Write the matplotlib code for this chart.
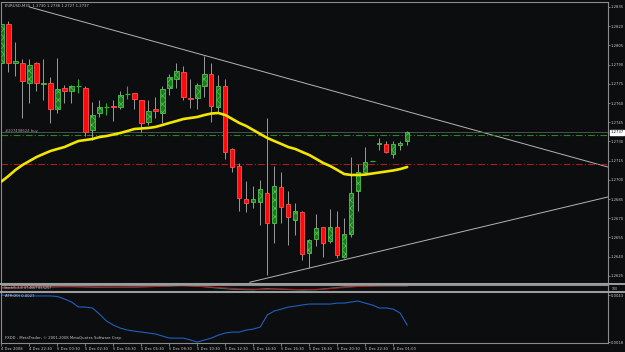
import matplotlib
matplotlib.use("Agg")
import matplotlib.pyplot as plt
import matplotlib.transforms as mtrans
from matplotlib import font_manager
from matplotlib.patches import Rectangle

BG = "#0c0d0f"
EDGE = "#8c8c8c"
TXT = "#c8c8c8"

# EURUSD M30 candles, one per 30 minutes starting 4 Dec 2008 20:30
opens = [1.2791, 1.2822, 1.2791, 1.2791, 1.2776, 1.2791, 1.2775, 1.2776, 1.2755, 1.2772,
         1.2769, 1.2773, 1.2772, 1.2739, 1.2752, 1.2757, 1.2758, 1.2757, 1.2767, 1.2768,
         1.2762, 1.2745, 1.2755, 1.2752, 1.2772, 1.2779, 1.2784, 1.2764, 1.2764, 1.2773,
         1.2783, 1.2757, 1.2773, 1.2724, 1.2711, 1.2685, 1.2683, 1.2683, 1.2690, 1.2666,
         1.2694, 1.2681, 1.2669, 1.2675, 1.2643, 1.2654, 1.2663, 1.2652, 1.2663, 1.2640,
         1.2658, 1.2691, 1.2706, 1.2715, 1.2728, 1.2728, 1.2720, 1.2727, 1.2730]
highs = [1.2825, 1.2824, 1.2808, 1.2794, 1.2794, 1.2792, 1.2794, 1.2780, 1.2795, 1.2774,
         1.2774, 1.2779, 1.2773, 1.2761, 1.2762, 1.2760, 1.2762, 1.2769, 1.2773, 1.2768,
         1.2762, 1.2762, 1.2765, 1.2773, 1.2783, 1.2791, 1.2789, 1.2779, 1.2776, 1.2797,
         1.2791, 1.2782, 1.2779, 1.2725, 1.2713, 1.2699, 1.2695, 1.2700, 1.2748, 1.2711,
         1.2706, 1.2691, 1.2682, 1.2676, 1.2654, 1.2673, 1.2663, 1.2677, 1.2676, 1.2670,
         1.2718, 1.2712, 1.2726, 1.2715, 1.2733, 1.2730, 1.2730, 1.2730, 1.2738]
lows = [1.2789, 1.2784, 1.2781, 1.2748, 1.2760, 1.2769, 1.2762, 1.2744, 1.2752, 1.2760,
        1.2760, 1.2768, 1.2734, 1.2731, 1.2749, 1.2751, 1.2746, 1.2755, 1.2763, 1.2755,
        1.2737, 1.2743, 1.2748, 1.2744, 1.2766, 1.2772, 1.2762, 1.2756, 1.2755, 1.2765,
        1.2745, 1.2753, 1.2716, 1.2706, 1.2676, 1.2675, 1.2678, 1.2665, 1.2626, 1.2651,
        1.2666, 1.2649, 1.2657, 1.2637, 1.2631, 1.2648, 1.2640, 1.2651, 1.2639, 1.2639,
        1.2655, 1.2676, 1.2704, 1.2715, 1.2723, 1.2721, 1.2717, 1.2723, 1.2727]
closes = [1.2822, 1.2791, 1.2793, 1.2777, 1.2790, 1.2776, 1.2776, 1.2755, 1.2771, 1.2769,
          1.2773, 1.2773, 1.2737, 1.2751, 1.2757, 1.2757, 1.2757, 1.2766, 1.2767, 1.2763,
          1.2744, 1.2754, 1.2754, 1.2771, 1.2780, 1.2785, 1.2765, 1.2763, 1.2774, 1.2783,
          1.2758, 1.2773, 1.2722, 1.2710, 1.2686, 1.2682, 1.2685, 1.2693, 1.2666, 1.2695,
          1.2679, 1.2671, 1.2676, 1.2642, 1.2653, 1.2662, 1.2651, 1.2663, 1.2641, 1.2658,
          1.2690, 1.2706, 1.2714, 1.2715, 1.2729, 1.2722, 1.2728, 1.2729, 1.2737]

# yellow moving average
ma = [1.26987, 1.27030, 1.27077, 1.27116, 1.27147, 1.27178, 1.27202, 1.27225, 1.27241, 1.27256,
      1.27280, 1.27303, 1.27311, 1.27319, 1.27334, 1.27342, 1.27354, 1.27366, 1.27381, 1.27397,
      1.27401, 1.27405, 1.27413, 1.27428, 1.27444, 1.27459, 1.27475, 1.27483, 1.27491, 1.27506,
      1.27518, 1.27522, 1.27506, 1.27475, 1.27444, 1.27420, 1.27389, 1.27358, 1.27327, 1.27303,
      1.27280, 1.27256, 1.27241, 1.27217, 1.27194, 1.27163, 1.27131, 1.27108, 1.27077, 1.27045,
      1.27038, 1.27038, 1.27041, 1.27049, 1.27057, 1.27065, 1.27073, 1.27084, 1.27100]

atr = [0.00430, 0.00427, 0.00427, 0.00425, 0.00425, 0.00425, 0.00425, 0.00425, 0.00422, 0.00409,
       0.00393, 0.00366, 0.00366, 0.00361, 0.00329, 0.00292, 0.00270, 0.00254, 0.00244, 0.00238,
       0.00233, 0.00228, 0.00223, 0.00212, 0.00201, 0.00201, 0.00201, 0.00191, 0.00180, 0.00191,
       0.00201, 0.00217, 0.00228, 0.00233, 0.00233, 0.00244, 0.00249, 0.00260, 0.00324, 0.00345,
       0.00355, 0.00366, 0.00371, 0.00377, 0.00382, 0.00382, 0.00382, 0.00382, 0.00387, 0.00387,
       0.00393, 0.00398, 0.00387, 0.00377, 0.00361, 0.00361, 0.00355, 0.00334, 0.00270]

# stochastic (squeezed panel)
sto_idx = [0, 3, 5, 10, 14, 19, 24, 26, 29, 31, 33, 36, 38, 40, 43, 45, 47, 49, 52, 55, 58]
sto_main = [55, 60, 65, 75, 62, 66, 82, 95, 72, 48, 30, 20, 40, 28, 18, 22, 45, 68, 85, 88, 87]
sig_idx = [0, 4, 8, 12, 17, 21, 25, 28, 31, 34, 37, 40, 43, 46, 48, 51, 54, 58]
sto_sig = [50, 58, 72, 68, 60, 72, 88, 80, 58, 35, 28, 33, 22, 30, 50, 75, 86, 88]

price_ticks = [1.2625 + 0.0015 * k for k in range(15)]
time_idx = [0, 4, 8, 12, 16, 20, 24, 28, 32, 36, 40, 44, 48, 52, 56]
time_labels = ["4 Dec 2008", "4 Dec 22:30", "5 Dec 00:30", "5 Dec 02:30", "5 Dec 04:30",
               "5 Dec 06:30", "5 Dec 08:30", "5 Dec 10:30", "5 Dec 12:30", "5 Dec 14:30",
               "5 Dec 16:30", "5 Dec 18:30", "5 Dec 20:30", "5 Dec 22:30", "8 Dec 01:00"]

# trend lines (two anchor points each, extended to the right edge)
upper_line = [(4, 1.2835), (86.7, 1.2710)]
lower_line = [(35.5, 1.2620), (86.7, 1.26866)]
bid = 1.2737
order_price = 1.2735
stop_price = 1.2712

# small condensed font, like the terminal's
names = {f.name for f in font_manager.fontManager.ttflist}
if "Liberation Sans Narrow" in names:
    plt.rcParams['font.family'] = ['Liberation Sans Narrow', 'DejaVu Sans']
    FS = 3.4
else:
    plt.rcParams['font.family'] = ['DejaVu Sans']
    FS = 2.7
plt.rcParams['hatch.color'] = "#0c3a0c"
plt.rcParams['hatch.linewidth'] = 0.5

W, H = 625, 352
fig = plt.figure(figsize=(W / 100, H / 100), dpi=100, facecolor=BG)


def panel(top, bottom):
    a = fig.add_axes([0.5 / W, (H - bottom) / H, 607.5 / W, (bottom - top) / H])
    a.set_facecolor(BG)
    for s in a.spines.values():
        s.set_color(EDGE)
        s.set_linewidth(0.8)
    a.set_xlim(-1 / 7, 607 / 7)
    a.yaxis.tick_right()
    a.tick_params(axis='y', direction='out', length=1.5, width=0.6, pad=0.4,
                  labelsize=FS, colors=EDGE, labelcolor=TXT)
    a.tick_params(axis='x', bottom=False, labelbottom=False)
    return a


ax = panel(2, 283)
ax.set_ylim(1.26194, 1.28389)
ax.set_yticks(price_ticks)
ax.set_yticklabels(["%.4f" % p for p in price_ticks])

n = len(opens)
xs = list(range(n))
up = [c > o for o, c in zip(opens, closes)]
dn = [c < o for o, c in zip(opens, closes)]
flat = [c == o for o, c in zip(opens, closes)]

ax.vlines([x for x, f in zip(xs, flat) if not f],
          [l for l, f in zip(lows, flat) if not f],
          [h for h, f in zip(highs, flat) if not f], color="#9a9a9a", lw=0.7, zorder=2)
ax.vlines([x for x, f in zip(xs, flat) if f],
          [l for l, f in zip(lows, flat) if f],
          [h for h, f in zip(highs, flat) if f], color="#2fb02f", lw=0.8, zorder=2)
ax.hlines([c for c, f in zip(closes, flat) if f],
          [x - 0.33 for x, f in zip(xs, flat) if f],
          [x + 0.33 for x, f in zip(xs, flat) if f], color="#2fb02f", lw=0.9, zorder=3)

ax.bar([x for x, u in zip(xs, up) if u],
       [c - o for o, c, u in zip(opens, closes, up) if u],
       bottom=[o for o, u in zip(opens, up) if u], width=0.62,
       color="#1f7a1f", edgecolor="#4ec24e", linewidth=0.6, hatch="xxxx", zorder=3)
ax.bar([x for x, d in zip(xs, dn) if d],
       [o - c for o, c, d in zip(opens, closes, dn) if d],
       bottom=[c for c, d in zip(closes, dn) if d], width=0.62,
       color="#ff0a0a", edgecolor="#ff5050", linewidth=0.6, zorder=3)

ax.plot(xs, ma, color="#f2e600", lw=1.9, zorder=4, solid_capstyle="round")

for (x0, y0), (x1, y1) in [upper_line, lower_line]:
    ax.plot([x0, x1], [y0, y1], color="#b4b4b4", lw=0.7, zorder=1)

ax.axhline(bid, color="#5a5a5a", lw=0.6, zorder=1)
ax.axhline(order_price, color="#1f8a1f", lw=0.8, ls=(0, (6, 2, 1, 2)), zorder=1)
ax.axhline(stop_price, color="#b01818", lw=0.8, ls=(0, (6, 2, 1, 2)), zorder=1)

tr = mtrans.blended_transform_factory(ax.transAxes, ax.transData)
ax.text(1.0035, bid, "%.4f" % bid, transform=tr, fontsize=FS, color="black",
        va="center", ha="left", clip_on=False,
        bbox=dict(boxstyle="square,pad=0.15", fc="white", ec="white"))
ax.text(0.008, order_price + 0.00016, "#207498624 buy", transform=tr,
        fontsize=FS, color="#a0a0a0", va="bottom", ha="left")
ax.text(0.008, 0.994, "EURUSD,M30  1.2730 1.2738 1.2727 1.2737", transform=ax.transAxes,
        fontsize=FS, color=TXT, va="top", ha="left")

# stochastic panel
ax_sto = panel(285, 291)
ax_sto.set_ylim(0, 100)
ax_sto.set_yticks([])
ax_sto.plot(sto_idx, sto_main, color="#1f8f8f", lw=0.8)
ax_sto.plot(sig_idx, sto_sig, color="#b01818", lw=0.8)
ax_sto.text(0.005, 0.5, "Stoch(5,3,3) 87.4667 83.5257", transform=ax_sto.transAxes,
            fontsize=FS * 0.85, color=TXT, va="center", ha="left")
ax_sto.text(1.006, 0.3, "100", transform=ax_sto.transAxes, fontsize=FS * 0.85,
            color=TXT, va="center", ha="left", clip_on=False)

# ATR panel
ax_atr = panel(292, 343)
ax_atr.set_ylim(0.00175, 0.00446)
ax_atr.set_yticks([0.0043, 0.0018])
ax_atr.set_yticklabels(["0.0043", "0.0018"])
ax_atr.plot(xs, atr, color="#1f5fbf", lw=0.8)
ax_atr.text(0.008, 0.96, "ATR(20) 0.0027", transform=ax_atr.transAxes,
            fontsize=FS, color=TXT, va="top", ha="left")
ax_atr.text(0.008, 0.05, "FXDD - MetaTrader, \u00a9 2001-2008 MetaQuotes Software Corp.",
            transform=ax_atr.transAxes, fontsize=FS, color=TXT, va="bottom", ha="left")
ax_atr.tick_params(axis='x', bottom=True, labelbottom=True, direction='out', length=2,
                   width=0.6, pad=0.8, labelsize=FS, colors=EDGE, labelcolor=TXT)
ax_atr.set_xticks(time_idx)
ax_atr.set_xticklabels(time_labels, ha="left")

# panel separators
for y0, h in [(282.5, 2.5), (290.5, 2.0)]:
    fig.patches.append(Rectangle((0, (H - y0 - h) / H), 1, h / H, transform=fig.transFigure,
                                 facecolor="#9c9c9c", edgecolor="none", zorder=5))

fig.savefig("out.png", dpi=100, facecolor=BG)
